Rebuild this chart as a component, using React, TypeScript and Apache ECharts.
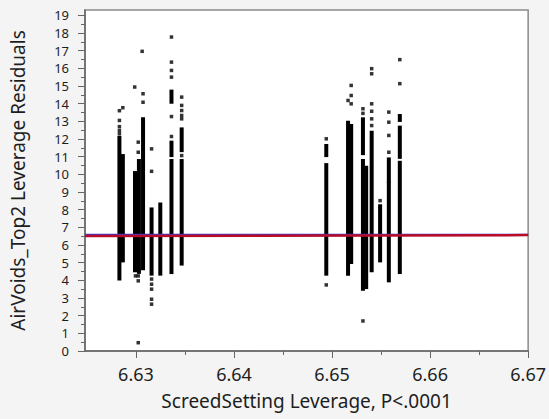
import React, { useEffect, useRef } from "react";
import * as echarts from "echarts";

// Dense vertical runs of points: x (leverage), low and high residual
const colX = [
  6.62831, 6.62866, 6.6299, 6.6303, 6.63072, 6.63159, 6.63248, 6.63362, 6.63362, 6.63362,
  6.63466, 6.63466, 6.64941, 6.64941, 6.65163, 6.65195, 6.65315, 6.65315, 6.65348, 6.65404,
  6.6549, 6.65579, 6.65579, 6.65691, 6.65691, 6.65691,
];
const colLow = [
  4.08, 5.1, 4.54, 4.45, 4.65, 4.35, 4.35, 4.44, 11.06, 14.08,
  4.92, 11.34, 4.35, 11.06, 4.35, 5.01, 3.5, 11.17, 3.59, 4.54,
  5.1, 3.97, 9.62, 4.44, 10.96, 13.05,
];
const colHigh = [
  12.08, 11.06, 10.1, 10.78, 13.14, 8.04, 8.32, 10.78, 11.82, 14.71,
  10.78, 12.57, 10.55, 11.63, 12.95, 12.76, 10.78, 13.14, 10.4, 12.38,
  8.22, 9.5, 10.87, 10.68, 12.67, 13.33,
];

// Isolated points
const dotX = [
  6.62831, 6.62831, 6.62831, 6.62831, 6.62831, 6.62866,
  6.62987, 6.63023, 6.63023, 6.63063, 6.63072, 6.63072, 6.63023, 6.63023, 6.62995, 6.63023,
  6.63159, 6.63159, 6.63159, 6.63159, 6.63159, 6.63159, 6.63159,
  6.63362, 6.63362, 6.63362, 6.63362, 6.63362, 6.63362,
  6.63466, 6.63466, 6.63466, 6.63466, 6.63466, 6.63466,
  6.64941, 6.64941,
  6.65195, 6.65195, 6.65163, 6.65195,
  6.65315, 6.65315, 6.65315,
  6.65404, 6.65404, 6.65404, 6.65404, 6.65404, 6.65404,
  6.6549,
  6.65579, 6.65579, 6.65579, 6.65579,
  6.65691, 6.65691,
];
const dotY = [
  12.29, 12.48, 12.7, 13.05, 13.6, 13.77,
  14.94, 11.82, 11.25, 16.96, 14.56, 14.08, 4.25, 3.97, 4.25, 0.47,
  11.44, 10.17, 4.07, 3.78, 3.5, 2.93, 2.65,
  17.77, 16.35, 15.88, 15.5, 13.27, 12.14,
  14.37, 13.9, 13.61, 13.33, 13.14, 11.06,
  12.01, 3.74,
  15.03, 14.46, 14.18, 13.99,
  13.71, 13.45, 1.7,
  15.98, 15.69, 13.99, 13.57, 13.14, 12.76,
  8.51,
  13.52, 12.95, 12.2, 11.25,
  16.49, 15.13,
];

// Reference lines (mean and fit) end points
const lineX = [6.6248, 6.67];
const meanY = [6.58, 6.58];
const fitY = [6.51, 6.56];

const xMajor = [6.63, 6.64, 6.65, 6.66, 6.67];
const xMinor = [6.635, 6.645, 6.655, 6.665];
const yMajor = [0, 1, 2, 3, 4, 5, 6, 7, 8, 9, 10, 11, 12, 13, 14, 15, 16, 17, 18, 19];
const yMinor = [0.5, 1.5, 2.5, 3.5, 4.5, 5.5, 6.5, 7.5, 8.5, 9.5, 10.5, 11.5, 12.5, 13.5, 14.5, 15.5, 16.5, 17.5, 18.5];

const FONT = "'Noto Sans', 'Open Sans', sans-serif";
const TXT = "#1e1e1e";

export default function App() {
  const ref = useRef<HTMLDivElement>(null);
  useEffect(() => {
    if (!ref.current) return;
    const chart = echarts.init(ref.current, undefined, { renderer: "svg" });
    const xMin = lineX[0];
    const xMax = lineX[1];
    const yMin = 0;
    const yMax = 19.3;
    chart.setOption({
      animation: false,
      backgroundColor: "#f4f4f4",
      grid: {
        left: 78,
        right: 15,
        top: 10,
        bottom: 68,
        show: true,
        backgroundColor: "#ffffff",
        borderColor: "#8a8a8a",
        borderWidth: 1.5,
      },
      xAxis: [
        {
          type: "value",
          min: xMin,
          max: xMax,
          name: "ScreedSetting Leverage, P<.0001",
          nameLocation: "middle",
          nameGap: 40,
          nameTextStyle: { color: TXT, fontSize: 19, fontFamily: FONT },
          axisLine: { show: true, onZero: false, lineStyle: { color: "#666", width: 1.5 } },
          axisTick: { show: true, length: 7, customValues: xMajor, lineStyle: { color: "#666" } },
          axisLabel: {
            show: true,
            customValues: xMajor,
            margin: 14,
            color: TXT,
            fontSize: 18,
            fontFamily: FONT,
            formatter: (v: number) => v.toFixed(2),
          },
          splitLine: { show: false },
        },
        {
          type: "value",
          min: xMin,
          max: xMax,
          position: "bottom",
          axisLine: { show: false },
          axisTick: { show: true, length: 4, customValues: xMinor, lineStyle: { color: "#666" } },
          axisLabel: { show: false },
          splitLine: { show: false },
        },
      ],
      yAxis: [
        {
          type: "value",
          min: yMin,
          max: yMax,
          name: "AirVoids_Top2 Leverage Residuals",
          nameLocation: "middle",
          nameGap: 58,
          nameTextStyle: { color: TXT, fontSize: 19, fontFamily: FONT },
          axisLine: { show: true, onZero: false, lineStyle: { color: "#666", width: 1.5 } },
          axisTick: { show: true, length: 7, customValues: yMajor, lineStyle: { color: "#666" } },
          axisLabel: {
            show: true,
            customValues: yMajor,
            margin: 16,
            color: TXT,
            fontSize: 13,
            lineHeight: 13,
            fontFamily: FONT,
          },
          splitLine: { show: false },
        },
        {
          type: "value",
          min: yMin,
          max: yMax,
          position: "left",
          axisLine: { show: false },
          axisTick: { show: true, length: 4, customValues: yMinor, lineStyle: { color: "#666" } },
          axisLabel: { show: false },
          splitLine: { show: false },
        },
      ],
      series: [
        {
          type: "custom",
          xAxisIndex: 0,
          yAxisIndex: 0,
          z: 2,
          data: colX.map((x, i) => [x, colLow[i], colHigh[i]]),
          renderItem: (_params: any, api: any) => {
            const x = api.value(0);
            const lo = api.value(1);
            const hi = api.value(2);
            const pTop = api.coord([x, hi]);
            const pBot = api.coord([x, lo]);
            return {
              type: "rect",
              shape: { x: pTop[0] - 2, y: pTop[1] - 1.5, width: 4, height: pBot[1] - pTop[1] + 3 },
              style: { fill: "#000" },
            };
          },
        },
        {
          type: "scatter",
          xAxisIndex: 0,
          yAxisIndex: 0,
          z: 2,
          symbol: "rect",
          symbolSize: 3.5,
          itemStyle: { color: "#000" },
          data: dotX.map((x, i) => [x, dotY[i]]),
        },
        {
          type: "line",
          xAxisIndex: 0,
          yAxisIndex: 0,
          z: 5,
          symbol: "none",
          lineStyle: { color: "#3a3ad0", width: 2 },
          data: lineX.map((x, i) => [x, meanY[i]]),
        },
        {
          type: "line",
          xAxisIndex: 0,
          yAxisIndex: 0,
          z: 6,
          symbol: "none",
          lineStyle: { color: "#b80c28", width: 2.5 },
          data: lineX.map((x, i) => [x, fitY[i]]),
        },
      ],
    });
    return () => chart.dispose();
  }, []);
  return (
    <div
      ref={ref}
      style={{ position: "fixed", left: 0, top: 0, width: 549, height: 419 }}
    />
  );
}
